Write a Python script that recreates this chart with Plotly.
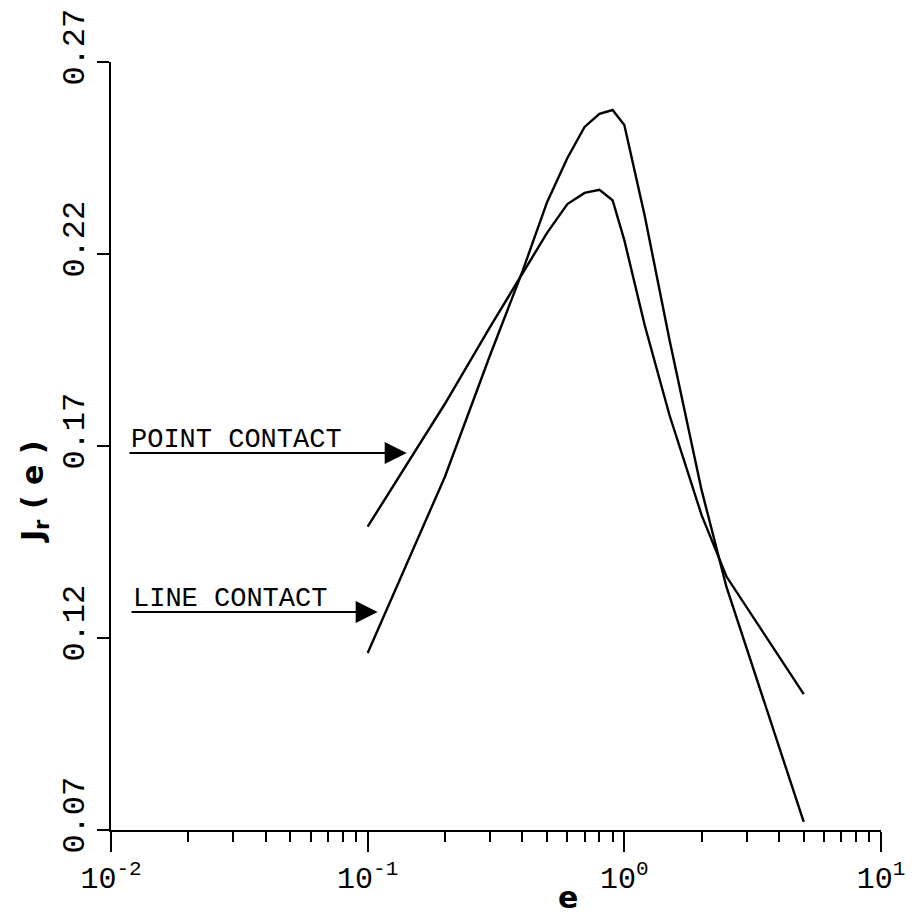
import plotly.graph_objects as go
import math

# ---- data ----
e_vals = [0.1, 0.2, 0.3, 0.4, 0.5, 0.6, 0.7, 0.8, 0.9, 1.0, 1.2, 1.5, 2.0, 2.5, 5.0]
point_contact = [0.149, 0.181, 0.201, 0.215, 0.2255, 0.233, 0.2359, 0.2367, 0.234,
                 0.2236, 0.2015, 0.178, 0.152, 0.136, 0.1054]
line_contact = [0.1161, 0.162, 0.1937, 0.2153, 0.2335, 0.245, 0.2531, 0.2565, 0.2575,
                0.2536, 0.230, 0.1976, 0.1585, 0.1333, 0.0721]

x_ticks = [0.01, 0.1, 1, 10]
x_ticktext = ["10<sup>-2</sup>", "10<sup>-1</sup>", "10<sup>0</sup>", "10<sup>1</sup>"]
x_minor = [m * 10 ** k for k in (-2, -1, 0) for m in range(2, 10)]
y_ticks = [0.07, 0.12, 0.17, 0.22, 0.27]
y_ticktext = ["0.07", "0.12", "0.17", "0.22", "0.27"]

labels = ["POINT CONTACT", "LINE CONTACT"]
label_tail_x = [0.01164, 0.01186]
label_tip_x = [0.1419, 0.1094]
label_y = [0.1682, 0.1268]

mono = "Liberation Mono"

fig = go.Figure()
fig.add_trace(go.Scatter(x=e_vals, y=point_contact, mode="lines",
                         line=dict(color="black", width=2.4), name="Point contact"))
fig.add_trace(go.Scatter(x=e_vals, y=line_contact, mode="lines",
                         line=dict(color="black", width=2.4), name="Line contact"))

for txt, tx, hx, yy in zip(labels, label_tail_x, label_tip_x, label_y):
    # arrow (also acts as underline)
    fig.add_annotation(x=math.log10(hx), y=yy, ax=math.log10(tx), ay=yy,
                       xref="x", yref="y", axref="x", ayref="y",
                       showarrow=True, arrowhead=2, arrowsize=2.2, arrowwidth=2,
                       arrowcolor="black", standoff=0, text="")
    fig.add_annotation(x=math.log10(tx) + 0.005, y=yy, xref="x", yref="y",
                       text=txt, showarrow=False, xanchor="left", yanchor="bottom",
                       yshift=-4,
                       font=dict(family=mono, size=27, color="black"))

# axis titles as annotations (placed off-centre as in the reference)
fig.add_annotation(x=-0.1, y=0.44, xref="paper", yref="paper",
                   xanchor="center", yanchor="middle",
                   text="<b>J<sub>r</sub> ( e )</b>", textangle=-90, showarrow=False,
                   font=dict(family="DejaVu Sans", size=30, color="black"))
fig.add_annotation(x=0.5935, y=-0.0885, xref="paper", yref="paper",
                   xanchor="center", yanchor="middle",
                   text="<b>e</b>", showarrow=False,
                   font=dict(family="DejaVu Sans", size=30, color="black"))

fig.update_xaxes(type="log", range=[-2, 1], tickvals=x_ticks, ticktext=x_ticktext,
                 ticks="outside", ticklen=20, tickwidth=2, tickcolor="black",
                 showline=True, linecolor="black", linewidth=2, mirror=False,
                 showgrid=False, zeroline=False, ticklabeloverflow="allow",
                 automargin=False,
                 minor=dict(tickvals=x_minor, ticks="outside", ticklen=10,
                            tickwidth=2, tickcolor="black", showgrid=False),
                 tickfont=dict(family=mono, size=30, color="black"))
fig.update_yaxes(range=[0.07, 0.27], tickvals=y_ticks, ticktext=y_ticktext,
                 ticks="outside", ticklen=12, tickwidth=2, tickcolor="black",
                 showline=True, linecolor="black", linewidth=2, mirror=False,
                 showgrid=False, zeroline=False, tickangle=-90,
                 ticklabelshift=-10, ticklabeloverflow="allow", automargin=False,
                 tickfont=dict(family=mono, size=32, color="black"))

fig.update_layout(width=906, height=907, margin=dict(l=103, r=33, t=54, b=85),
                  plot_bgcolor="white", paper_bgcolor="white", showlegend=False)

fig.write_html("out.html")
